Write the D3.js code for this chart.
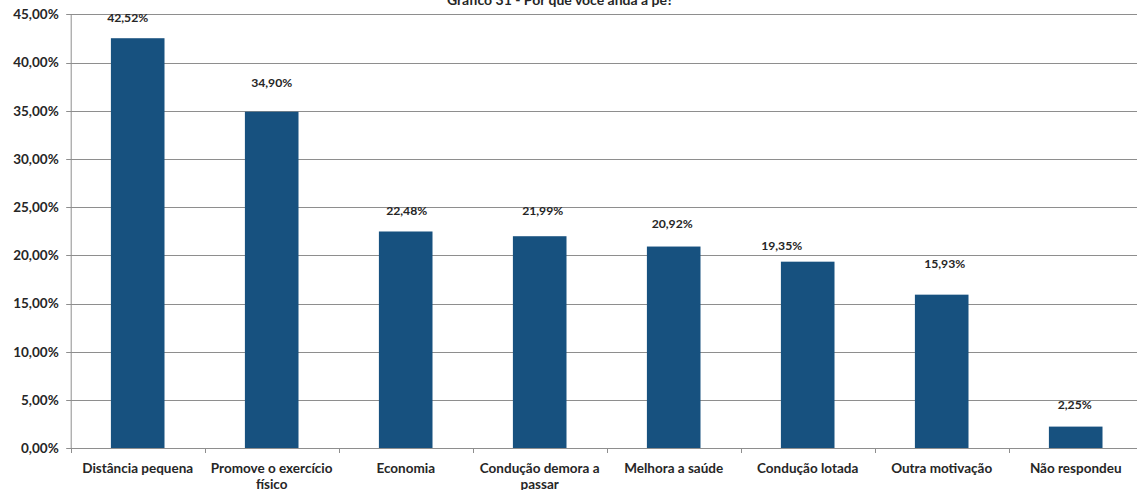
<!DOCTYPE html>
<html>
<head>
<meta charset="utf-8">
<script src="https://cdn.jsdelivr.net/npm/d3@7"></script>
<style>
  html, body { margin: 0; padding: 0; background: #fff; }
  svg { display: block; }
  text { font-family: Lato, "Open Sans", sans-serif; font-weight: 700; fill: #262626; }
</style>
</head>
<body>
<svg id="chart" width="1137" height="490"></svg>
<script>
// ---- data ----
const title = "Gráfico 31 -  Por que você anda a pé?";
const categories = [
  ["Distância pequena"],
  ["Promove o exercício", "físico"],
  ["Economia"],
  ["Condução demora a", "passar"],
  ["Melhora a saúde"],
  ["Condução lotada"],
  ["Outra motivação"],
  ["Não respondeu"]
];
const values = [42.52, 34.90, 22.48, 21.99, 20.92, 19.35, 15.93, 2.25];
const yTicks = [0, 5, 10, 15, 20, 25, 30, 35, 40, 45];

// ---- layout (not data) ----
const W = 1137, H = 490;
const x0 = 70.7, band = 134;
const yTop = 14.3, yBottom = 448.3;
// manual label nudges [dx, dy from bar top], as placed in the original
const labelNudge = [[-10, -20], [0, -29], [1, -21], [3, -25], [-1.5, -23], [-26, -16], [3, -31], [-1, -22]];

const svg = d3.select("#chart");
const idx = d3.range(values.length);

const x = d3.scaleBand()
  .domain(idx)
  .range([x0, x0 + band * values.length])
  .paddingInner(0.6)
  .paddingOuter(0.3);

const y = d3.scaleLinear().domain([0, 45]).range([yBottom, yTop]);

const fmt = v => d3.format(".2f")(v).replace(".", ",") + "%";

// gridlines
svg.append("g")
  .selectAll("line")
  .data(yTicks)
  .join("line")
  .attr("x1", x0 - 4.5)
  .attr("x2", W)
  .attr("y1", d => Math.round(y(d)) + 0.5)
  .attr("y2", d => Math.round(y(d)) + 0.5)
  .attr("stroke", "#8e8e8e")
  .attr("stroke-width", 1);

// y axis
const yAxis = d3.axisLeft(y).tickValues(yTicks).tickSize(0).tickPadding(12)
  .tickFormat(d => fmt(d));
const gy = svg.append("g").attr("transform", `translate(${x0},0)`).call(yAxis);
gy.select(".domain").attr("stroke", "#8e8e8e").attr("stroke-width", 1);
gy.selectAll("text")
  .attr("font-family", "Lato, 'Open Sans', sans-serif")
  .attr("font-weight", 700)
  .attr("font-size", 13.5)
  .attr("fill", "#262626");

// bars
svg.append("g")
  .selectAll("rect")
  .data(values)
  .join("rect")
  .attr("x", (d, i) => x(i))
  .attr("width", x.bandwidth())
  .attr("y", d => y(d))
  .attr("height", d => yBottom - y(d))
  .attr("fill", "#17517f");

// x axis
const gx = svg.append("g").attr("transform", `translate(0,${Math.round(yBottom) + 0.5})`);
gx.append("line")
  .attr("x1", x0).attr("x2", W)
  .attr("stroke", "#8e8e8e");
gx.selectAll(".tk")
  .data(d3.range(values.length + 1))
  .join("line")
  .attr("class", "tk")
  .attr("x1", i => Math.round(x0 + i * band) + 0.5)
  .attr("x2", i => Math.round(x0 + i * band) + 0.5)
  .attr("y1", 0).attr("y2", 4.5)
  .attr("stroke", "#8e8e8e");

const xl = svg.append("g").selectAll("text")
  .data(categories)
  .join("text")
  .attr("x", (d, i) => x(i) + x.bandwidth() / 2)
  .attr("y", 472.5)
  .attr("text-anchor", "middle")
  .attr("font-size", 13.5);
xl.selectAll("tspan")
  .data(d => d)
  .join("tspan")
  .attr("x", function () { return d3.select(this.parentNode).attr("x"); })
  .attr("dy", (d, j) => j === 0 ? 0 : 16.5)
  .text(d => d);

// value labels
svg.append("g")
  .selectAll("text")
  .data(values)
  .join("text")
  .attr("x", (d, i) => x(i) + x.bandwidth() / 2 + labelNudge[i][0])
  .attr("y", (d, i) => y(d) + labelNudge[i][1])
  .attr("dy", "0.35em")
  .attr("text-anchor", "middle")
  .attr("font-size", 12.2)
  .text(d => fmt(d));

// title (clipped at top as in the original)
svg.append("text")
  .attr("x", 560)
  .attr("y", 5)
  .attr("text-anchor", "middle")
  .attr("font-size", 14)
  .text(title);
</script>
</body>
</html>
